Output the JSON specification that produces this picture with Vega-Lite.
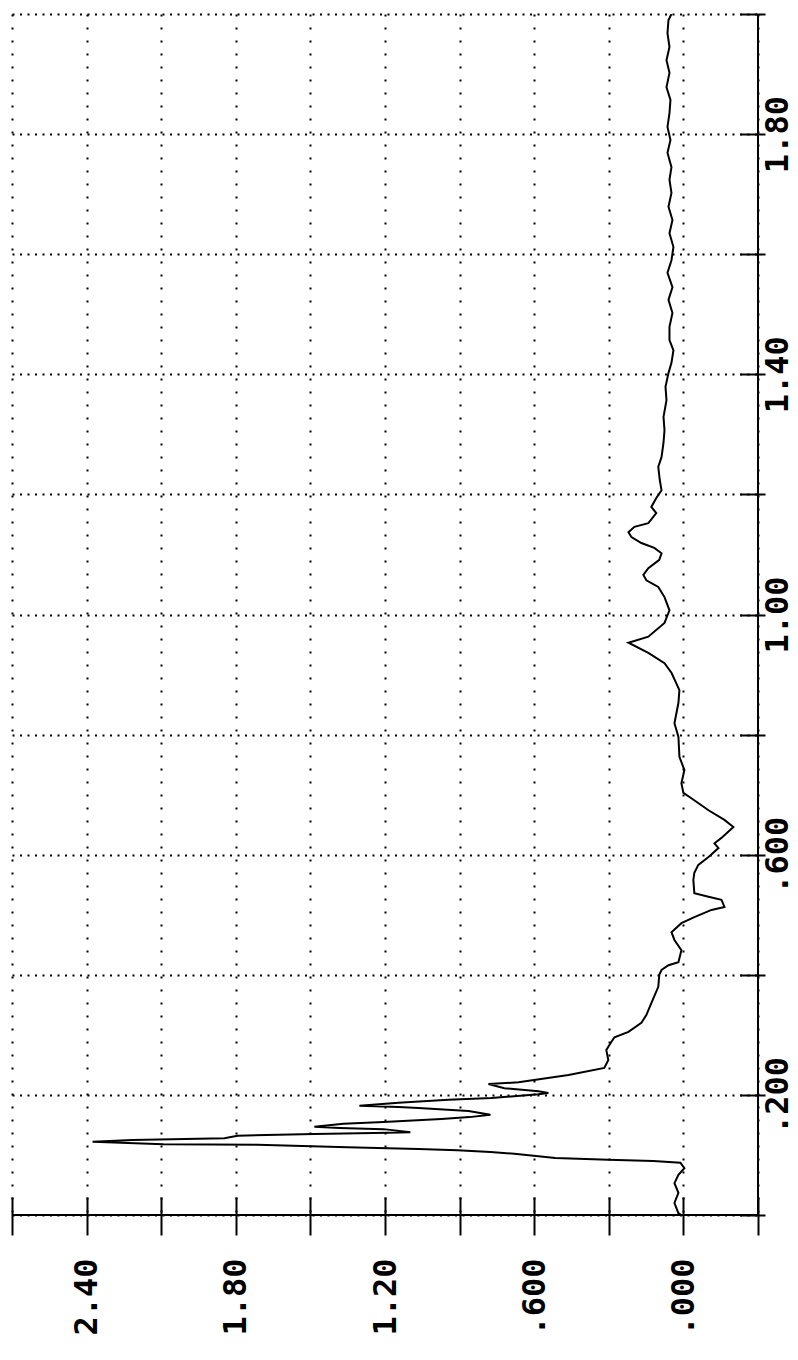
{
  "$schema": "https://vega.github.io/schema/vega-lite/v6.json",
  "width": 746,
  "height": 1201,
  "autosize": {"type": "none"},
  "padding": {"left": 12, "top": 14, "right": 40, "bottom": 145},
  "background": "white",
  "config": {
    "view": {"stroke": null},
    "axis": {
      "labelFont": "DejaVu Sans Mono",
      "labelFontWeight": "bold",
      "labelFontSize": 32,
      "labelColor": "black",
      "tickColor": "black",
      "tickWidth": 2,
      "gridColor": "black",
      "gridOpacity": 1,
      "title": null
    }
  },
  "data": {
    "values": [
      {"t": 0.000, "v": 0.008}, {"t": 0.003, "v": 0.020}, {"t": 0.020, "v": 0.036}, {"t": 0.037, "v": 0.020},
      {"t": 0.053, "v": 0.036}, {"t": 0.067, "v": 0.020}, {"t": 0.078, "v": -0.004}, {"t": 0.087, "v": 0.012},
      {"t": 0.090, "v": 0.121}, {"t": 0.092, "v": 0.302}, {"t": 0.095, "v": 0.515}, {"t": 0.102, "v": 0.680},
      {"t": 0.105, "v": 0.776}, {"t": 0.108, "v": 0.909}, {"t": 0.110, "v": 1.066}, {"t": 0.113, "v": 1.351},
      {"t": 0.117, "v": 1.713}, {"t": 0.118, "v": 2.091}, {"t": 0.122, "v": 2.376}, {"t": 0.125, "v": 2.216},
      {"t": 0.128, "v": 1.846}, {"t": 0.132, "v": 1.793}, {"t": 0.135, "v": 1.484}, {"t": 0.137, "v": 1.186},
      {"t": 0.138, "v": 1.098}, {"t": 0.143, "v": 1.206}, {"t": 0.145, "v": 1.383}, {"t": 0.147, "v": 1.484},
      {"t": 0.152, "v": 1.367}, {"t": 0.155, "v": 1.206}, {"t": 0.160, "v": 0.973}, {"t": 0.163, "v": 0.860},
      {"t": 0.167, "v": 0.776}, {"t": 0.173, "v": 0.864}, {"t": 0.178, "v": 1.066}, {"t": 0.180, "v": 1.146},
      {"t": 0.182, "v": 1.303}, {"t": 0.187, "v": 1.146}, {"t": 0.192, "v": 0.945}, {"t": 0.195, "v": 0.772},
      {"t": 0.201, "v": 0.583}, {"t": 0.203, "v": 0.543}, {"t": 0.206, "v": 0.583}, {"t": 0.211, "v": 0.720},
      {"t": 0.218, "v": 0.784}, {"t": 0.221, "v": 0.663}, {"t": 0.233, "v": 0.462}, {"t": 0.245, "v": 0.318},
      {"t": 0.258, "v": 0.302}, {"t": 0.275, "v": 0.310}, {"t": 0.288, "v": 0.290}, {"t": 0.296, "v": 0.277},
      {"t": 0.305, "v": 0.221}, {"t": 0.320, "v": 0.169}, {"t": 0.333, "v": 0.149}, {"t": 0.353, "v": 0.129},
      {"t": 0.380, "v": 0.101}, {"t": 0.400, "v": 0.097}, {"t": 0.408, "v": 0.088}, {"t": 0.416, "v": 0.060},
      {"t": 0.421, "v": 0.020}, {"t": 0.441, "v": 0.008}, {"t": 0.458, "v": 0.036}, {"t": 0.471, "v": 0.048},
      {"t": 0.486, "v": 0.008}, {"t": 0.496, "v": -0.044}, {"t": 0.508, "v": -0.113}, {"t": 0.513, "v": -0.165},
      {"t": 0.525, "v": -0.153}, {"t": 0.530, "v": -0.101}, {"t": 0.536, "v": -0.044}, {"t": 0.558, "v": -0.040},
      {"t": 0.570, "v": -0.044}, {"t": 0.583, "v": -0.060}, {"t": 0.596, "v": -0.101}, {"t": 0.611, "v": -0.141},
      {"t": 0.619, "v": -0.125}, {"t": 0.628, "v": -0.153}, {"t": 0.646, "v": -0.201}, {"t": 0.658, "v": -0.165},
      {"t": 0.674, "v": -0.101}, {"t": 0.694, "v": -0.032}, {"t": 0.703, "v": 0.000}, {"t": 0.719, "v": 0.008},
      {"t": 0.741, "v": -0.004}, {"t": 0.763, "v": 0.016}, {"t": 0.796, "v": 0.020}, {"t": 0.819, "v": 0.036},
      {"t": 0.853, "v": 0.020}, {"t": 0.874, "v": 0.016}, {"t": 0.903, "v": 0.048}, {"t": 0.919, "v": 0.076},
      {"t": 0.936, "v": 0.141}, {"t": 0.953, "v": 0.221}, {"t": 0.963, "v": 0.141}, {"t": 0.986, "v": 0.076},
      {"t": 1.007, "v": 0.056}, {"t": 1.029, "v": 0.076}, {"t": 1.046, "v": 0.101}, {"t": 1.057, "v": 0.149},
      {"t": 1.066, "v": 0.161}, {"t": 1.077, "v": 0.141}, {"t": 1.091, "v": 0.097}, {"t": 1.102, "v": 0.088},
      {"t": 1.111, "v": 0.117}, {"t": 1.119, "v": 0.169}, {"t": 1.129, "v": 0.209}, {"t": 1.137, "v": 0.221},
      {"t": 1.146, "v": 0.197}, {"t": 1.152, "v": 0.141}, {"t": 1.169, "v": 0.109}, {"t": 1.179, "v": 0.129},
      {"t": 1.194, "v": 0.109}, {"t": 1.207, "v": 0.088}, {"t": 1.224, "v": 0.095}, {"t": 1.246, "v": 0.101},
      {"t": 1.262, "v": 0.088}, {"t": 1.286, "v": 0.080}, {"t": 1.307, "v": 0.076}, {"t": 1.329, "v": 0.080},
      {"t": 1.357, "v": 0.068}, {"t": 1.379, "v": 0.072}, {"t": 1.402, "v": 0.060}, {"t": 1.419, "v": 0.048},
      {"t": 1.440, "v": 0.040}, {"t": 1.457, "v": 0.056}, {"t": 1.479, "v": 0.056}, {"t": 1.502, "v": 0.044},
      {"t": 1.524, "v": 0.060}, {"t": 1.545, "v": 0.044}, {"t": 1.569, "v": 0.064}, {"t": 1.590, "v": 0.048},
      {"t": 1.612, "v": 0.040}, {"t": 1.635, "v": 0.056}, {"t": 1.657, "v": 0.044}, {"t": 1.679, "v": 0.060},
      {"t": 1.702, "v": 0.048}, {"t": 1.724, "v": 0.056}, {"t": 1.745, "v": 0.048}, {"t": 1.769, "v": 0.064},
      {"t": 1.790, "v": 0.052}, {"t": 1.812, "v": 0.064}, {"t": 1.835, "v": 0.056}, {"t": 1.857, "v": 0.052},
      {"t": 1.878, "v": 0.068}, {"t": 1.902, "v": 0.056}, {"t": 1.923, "v": 0.068}, {"t": 1.945, "v": 0.056},
      {"t": 1.968, "v": 0.064}, {"t": 1.990, "v": 0.060}, {"t": 2.000, "v": 0.048}
    ]
  },
  "layer": [
    {
      "mark": {"type": "line", "color": "black", "strokeWidth": 2, "strokeJoin": "miter", "clip": true},
      "encoding": {
        "x": {
          "field": "v", "type": "quantitative",
          "scale": {"domain": [-0.3, 2.7], "reverse": true, "nice": false, "zero": false},
          "axis": {
            "orient": "bottom",
            "values": [2.7, 2.4, 2.1, 1.8, 1.5, 1.2, 0.9, 0.6, 0.3, 0, -0.3],
            "labelExpr": "abs(datum.value-2.4)<0.01 ? '2.40' : abs(datum.value-1.8)<0.01 ? '1.80' : abs(datum.value-1.2)<0.01 ? '1.20' : abs(datum.value-0.6)<0.01 ? '.600' : abs(datum.value)<0.01 ? '.000' : ''",
            "labelAngle": -90,
            "labelAlign": "right",
            "labelBaseline": "middle",
            "labelPadding": 23,
            "offset": -18,
            "tickSize": 38,
            "domain": false,
            "grid": true,
            "gridDash": [2, 11],
            "gridWidth": 2
          }
        },
        "y": {
          "field": "t", "type": "quantitative",
          "scale": {"domain": [0, 2], "nice": false, "zero": false},
          "axis": {
            "orient": "right",
            "values": [0, 0.2, 0.4, 0.6, 0.8, 1.0, 1.2, 1.4, 1.6, 1.8, 2.0],
            "labelExpr": "abs(datum.value-0.2)<0.01 ? '.200' : abs(datum.value-0.6)<0.01 ? '.600' : abs(datum.value-1.0)<0.01 ? '1.00' : abs(datum.value-1.4)<0.01 ? '1.40' : abs(datum.value-1.8)<0.01 ? '1.80' : ''",
            "labelAngle": -90,
            "labelAlign": "center",
            "labelBaseline": "middle",
            "labelPadding": 12,
            "offset": -18,
            "tickSize": 25,
            "domain": false,
            "grid": true,
            "gridDash": [2, 5.5],
            "gridWidth": 2
          }
        },
        "order": {"field": "t", "type": "quantitative"}
      }
    },
    {
      "mark": {"type": "rule", "color": "black", "strokeWidth": 2},
      "encoding": {"y": {"datum": 0}}
    },
    {
      "mark": {"type": "rule", "color": "black", "strokeWidth": 2},
      "encoding": {"x": {"datum": -0.3}}
    }
  ]
}
